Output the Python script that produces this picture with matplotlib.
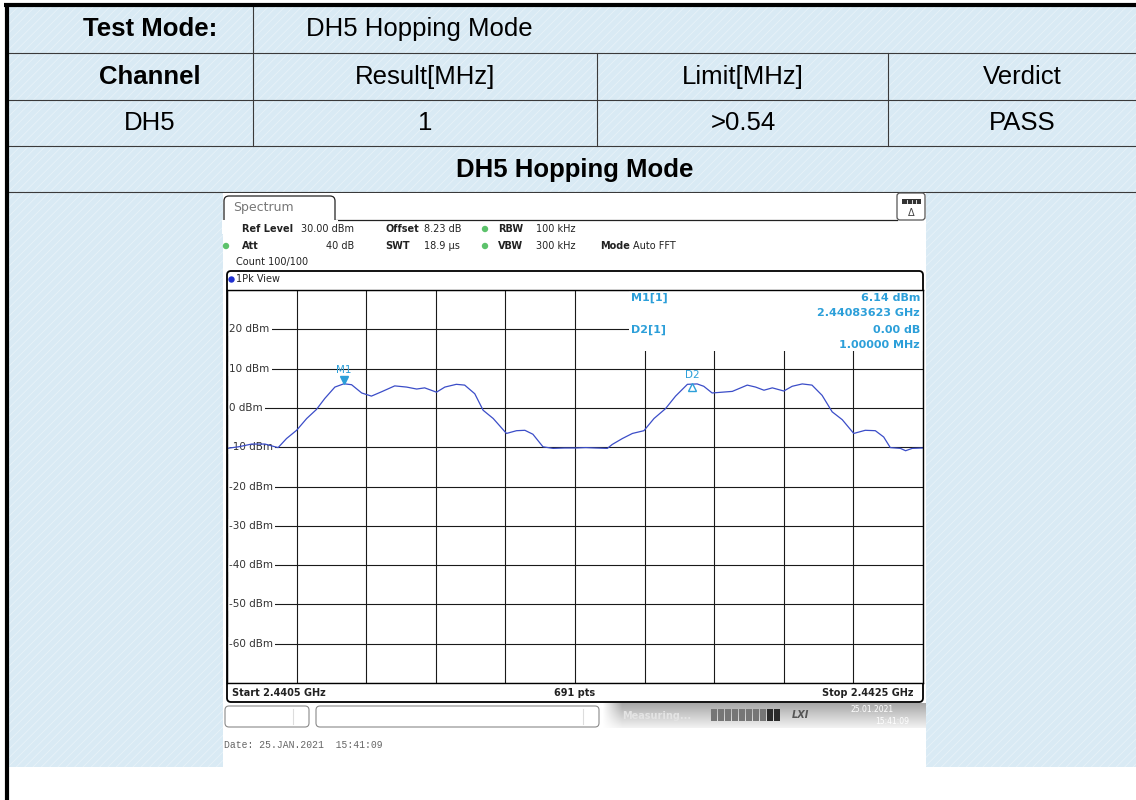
import numpy as np
import matplotlib.pyplot as plt
import matplotlib.transforms as mtransforms
from matplotlib.patches import Rectangle, FancyBboxPatch, Circle
from matplotlib.ticker import MultipleLocator, FixedLocator

plt.rcParams['hatch.linewidth'] = 0.5

W, H = 1136, 800

# report table
test_mode = "DH5 Hopping Mode"
table_header = ["Channel", "Result[MHz]", "Limit[MHz]", "Verdict"]
table_row = ["DH5", "1", ">0.54", "PASS"]
plot_title = "DH5 Hopping Mode"

# analyzer settings
ref_level = "30.00 dBm"
offset = "8.23 dB"
rbw = "100 kHz"
att = "40 dB"
swt = "18.9 µs"
vbw = "300 kHz"
mode = "Auto FFT"
count = "Count 100/100"
start_ghz = 2.4405
stop_ghz = 2.4425
n_pts = 691
date_text = "Date: 25.JAN.2021  15:41:09"

# markers
m1_freq = 2440.83623   # MHz
m1_level = 6.14        # dBm
d2_offset = 1.0        # MHz
d2_delta = 0.00        # dB

# trace (MHz, dBm)
freq_mhz = [
    2440.500, 2440.533, 2440.571, 2440.609, 2440.638, 2440.647, 2440.671, 2440.700,
    2440.729, 2440.757, 2440.781, 2440.810, 2440.836, 2440.858, 2440.887, 2440.915,
    2440.944, 2440.982, 2441.016, 2441.045, 2441.068, 2441.102, 2441.126, 2441.159,
    2441.183, 2441.212, 2441.236, 2441.265, 2441.303, 2441.332, 2441.356, 2441.379,
    2441.408, 2441.437, 2441.470,
    2441.502, 2441.531, 2441.559, 2441.593, 2441.607, 2441.636, 2441.665, 2441.698,
    2441.727, 2441.760, 2441.789, 2441.823, 2441.851, 2441.870, 2441.894, 2441.923,
    2441.952, 2441.995, 2442.019, 2442.043, 2442.067, 2442.100, 2442.124, 2442.153,
    2442.181, 2442.210, 2442.239, 2442.268, 2442.301, 2442.334, 2442.363, 2442.387,
    2442.406, 2442.435, 2442.450, 2442.469, 2442.500]
level_dbm = [
    -10.3, -9.9, -9.2, -9.2, -9.9, -10.1, -7.8, -5.7,
    -2.7, -0.4, 2.4, 5.3, 6.14, 5.9, 3.8, 3.0,
    4.1, 5.6, 5.3, 4.8, 5.1, 4.0, 5.3, 6.0,
    5.8, 3.6, -0.6, -2.7, -6.5, -5.8, -5.7, -6.7,
    -9.9, -10.3, -10.2,
    -10.2, -10.1, -10.2, -10.3, -9.3, -7.8, -6.5, -5.8,
    -2.7, -0.2, 3.0, 6.0, 6.1, 5.5, 3.8, 4.0,
    4.2, 5.8, 5.3, 4.5, 5.1, 4.3, 5.5, 6.1,
    5.8, 3.2, -1.0, -3.0, -6.5, -5.7, -5.8, -7.4,
    -10.1, -10.3, -10.9, -10.3, -10.2]

fig = plt.figure(figsize=(W / 100, H / 100), dpi=100)
fig.patch.set_facecolor('white')

bg = fig.add_axes([0, 0, 1, 1], zorder=0)
bg.set_xlim(0, W)
bg.set_ylim(H, 0)
bg.axis('off')

# textured blue report background
bg.add_patch(Rectangle((8, 5), W - 8, 762, facecolor='#d9eaf4', edgecolor='#e9f3f9',
                       lw=0, hatch='////', zorder=0))

# table grid
line_c = '#3a3a3a'
for y in [53, 100, 146, 192]:
    bg.plot([8, W], [y, y], color=line_c, lw=0.8, zorder=1)
bg.plot([253, 253], [5, 146], color=line_c, lw=0.8, zorder=1)
for x in [597, 888]:
    bg.plot([x, x], [53, 146], color=line_c, lw=0.8, zorder=1)
bg.plot([4, W], [4.5, 4.5], color='black', lw=3, zorder=2, solid_capstyle='butt')
bg.plot([7, 7], [3, H], color='black', lw=3, zorder=2, solid_capstyle='butt')

tfont = dict(family='Liberation Sans', fontsize=18.5, color='black', va='center')
col_x = [150, 425, 743, 1022]
bg.text(150, 29, "Test Mode:", ha='center', fontweight='bold', **tfont)
bg.text(306, 29, test_mode, ha='left', **tfont)
for i, (h, v) in enumerate(zip(table_header, table_row)):
    bg.text(col_x[i], 77, h, ha='center', fontweight='bold' if i == 0 else 'normal', **tfont)
    bg.text(col_x[i], 123, v, ha='center', **tfont)
bg.text(575, 170, plot_title, ha='center', fontweight='bold', **tfont)

# analyzer screenshot
bg.add_patch(Rectangle((223, 193), 703, 574, facecolor='white', edgecolor='none', zorder=2))

# Spectrum tab
bg.add_patch(FancyBboxPatch((224, 196), 111, 34, boxstyle='round,pad=0,rounding_size=5',
                            facecolor='white', edgecolor='#222222', lw=0.9, zorder=3))
bg.add_patch(Rectangle((222, 219.6), 116, 14, facecolor='white', edgecolor='none', zorder=3.1))
bg.plot([335, 897], [219.5, 219.5], color='#222222', lw=0.9, zorder=3)
bg.text(233, 208, "Spectrum", fontsize=9, color='#777777', va='center', zorder=4)

# icon box top right
bg.add_patch(FancyBboxPatch((897, 193), 28, 27, boxstyle='round,pad=0,rounding_size=3',
                            facecolor='white', edgecolor='#555555', lw=0.9, zorder=3))
bg.add_patch(Rectangle((902, 199), 19, 4.5, facecolor='#333333', edgecolor='none', zorder=4))
for sx in [907, 911.5, 916]:
    bg.plot([sx, sx], [199.5, 203], color='white', lw=0.6, zorder=5)
bg.text(911.5, 213, "Δ", fontsize=7, color='#444444', ha='center', va='center', zorder=4)

# setting lines
sf = dict(fontsize=7, color='#222222', va='center', zorder=4)
sb = dict(sf, fontweight='bold')
dot_c = '#5cc26b'
bg.text(241.6, 229, "Ref Level", **sb)
bg.text(301, 229, ref_level, **sf)
bg.text(385, 229, "Offset", **sb)
bg.text(424, 229, offset, **sf)
bg.text(498, 229, "RBW", **sb)
bg.text(536, 229, rbw, **sf)
bg.text(241.6, 246, "Att", **sb)
bg.text(354, 246, att, ha='right', **sf)
bg.text(385, 246, "SWT", **sb)
bg.text(424, 246, swt, **sf)
bg.text(498, 246, "VBW", **sb)
bg.text(536, 246, vbw, **sf)
bg.text(600, 246, "Mode", **sb)
bg.text(633, 246, mode, **sf)
bg.text(236, 262, count, **sf)
for cx, cy in [(485, 229), (485, 246), (226, 246)]:
    bg.add_patch(Circle((cx, cy), 3.2, facecolor=dot_c, edgecolor='none', zorder=4))

# diagram frame
bg.add_patch(FancyBboxPatch((227, 271), 696, 431, boxstyle='round,pad=0,rounding_size=4',
                            facecolor='white', edgecolor='black', lw=1.3, zorder=3))
bg.add_patch(Circle((231.5, 279.5), 3.2, facecolor='#1f2fd0', edgecolor='none', zorder=4))
bg.text(236, 279.5, "1Pk View", **sf)
bg.text(232, 693, f"Start {start_ghz} GHz", **sb)
bg.text(575, 693, f"{n_pts} pts", ha='center', **sb)
bg.text(913, 693, f"Stop {stop_ghz} GHz", ha='right', **sb)

# status bar
for (bx, bw, tick) in [(225, 84, 293), (316, 283, 583)]:
    bg.add_patch(FancyBboxPatch((bx, 706), bw, 21, boxstyle='round,pad=0,rounding_size=4',
                                facecolor='white', edgecolor='#8a8a8a', lw=0.8, zorder=3))
    bg.plot([tick, tick], [709, 724], color='#dddddd', lw=0.8, zorder=4)
gy = np.linspace(0.66, 0.95, 30)[:, None]
gx = np.clip(np.linspace(0, 1, 200) / 0.06, 0, 1)[None, :]
grad = np.ones((30, 200, 4))
grad[..., :3] = (1 - gx[..., None]) * 1.0 + gx[..., None] * gy[..., None]
bg.imshow(grad, extent=[602, 926, 728, 703], aspect='auto', zorder=3, interpolation='bilinear')
bg.text(622, 716, "Measuring...", fontsize=7, color='#e4e4e4', fontweight='bold', va='center', zorder=4)
for k in range(10):
    bg.add_patch(Rectangle((711 + k * 7, 709), 6, 12, facecolor='#2a2a2a' if k >= 8 else '#767676',
                           edgecolor='none', zorder=4))
bg.text(800, 715, "LXI", fontsize=7, color='#555555', fontstyle='italic', fontweight='bold',
        ha='center', va='center', zorder=4)
bg.text(872, 710, "25.01.2021", fontsize=5.5, color='white', ha='center', va='center', zorder=4)
bg.text(892, 721, "15:41:09", fontsize=5.5, color='white', ha='center', va='center', zorder=4)

bg.text(224, 745, date_text, family='Liberation Mono', fontsize=7, color='#666666', va='center', zorder=4)

# spectrum diagram
f0, f1 = start_ghz * 1000, stop_ghz * 1000
ax = fig.add_axes([227 / W, 1 - 683 / H, 696 / W, 393 / H], zorder=1)
ax.set_xlim(f0, f1)
ax.set_ylim(-70, 30)
ax.xaxis.set_major_locator(FixedLocator(np.linspace(f0, f1, 11)))
ax.yaxis.set_major_locator(MultipleLocator(10))
ax.tick_params(length=0, labelbottom=False, labelleft=False)
ax.set_axisbelow(True)
ax.grid(True, color='#1a1a1a', lw=0.8)
for sp in ax.spines.values():
    sp.set_color('black')
    sp.set_linewidth(1.0)

# marker readout area hides the grid
ax.add_patch(Rectangle((0.5776, 0.8448), 0.43, 0.2, transform=ax.transAxes,
                       facecolor='white', edgecolor='none', zorder=1))

ylab_tr = mtransforms.blended_transform_factory(ax.transAxes, ax.transData)
for lev in range(20, -70, -10):
    ax.text(0.0035, lev, f"{lev} dBm", transform=ylab_tr, fontsize=7.5, color='#333333',
            va='center', ha='left', zorder=1.5,
            bbox=dict(facecolor='white', edgecolor='none', pad=1.4))

ax.plot(freq_mhz, level_dbm, color='#3b4dc8', lw=0.9, zorder=2)

mk_c = '#2c9fd9'
up = mtransforms.offset_copy(ax.transData, fig=fig, y=3, units='points')
ax.plot(m1_freq, m1_level, marker='v', ms=6, color=mk_c, transform=up, zorder=3, clip_on=False)
ax.text(m1_freq, m1_level, "M1", transform=mtransforms.offset_copy(ax.transData, fig=fig, y=10, units='points'),
        fontsize=7.5, color=mk_c, ha='center', va='center', zorder=3)
d2_freq = m1_freq + d2_offset
d2_level = m1_level + d2_delta
down = mtransforms.offset_copy(ax.transData, fig=fig, y=-2, units='points')
ax.plot(d2_freq, d2_level, marker='^', ms=6, mfc='white', mec=mk_c, mew=1, transform=down, zorder=3)
ax.text(d2_freq, d2_level, "D2", transform=mtransforms.offset_copy(ax.transData, fig=fig, y=6, units='points'),
        fontsize=7.5, color=mk_c, ha='center', va='center', zorder=3)

# marker readout text
ov = fig.add_axes([0, 0, 1, 1], zorder=2)
ov.set_xlim(0, W)
ov.set_ylim(H, 0)
ov.axis('off')
mf = dict(fontsize=8, color=mk_c, fontweight='bold', va='center')
ov.text(631, 298, "M1[1]", **mf)
ov.text(920, 298, f"{m1_level:.2f} dBm", ha='right', **mf)
ov.text(920, 313, f"{m1_freq / 1000:.8f} GHz", ha='right', **mf)
ov.text(631, 330, "D2[1]", **mf)
ov.text(920, 330, f"{d2_delta:.2f} dB", ha='right', **mf)
ov.text(920, 345, f"{d2_offset:.5f} MHz", ha='right', **mf)

fig.savefig('out.png', dpi=100, facecolor='white')
